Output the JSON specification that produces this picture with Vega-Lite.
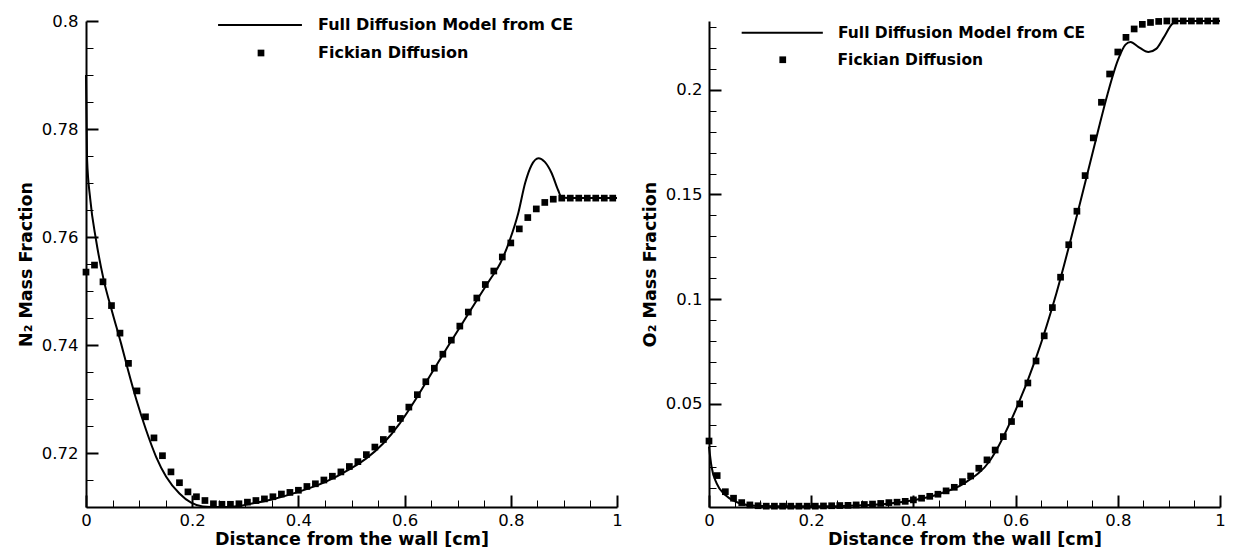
{
 "$schema": "https://vega.github.io/schema/vega-lite/v6.json",
 "padding": {"left": 17, "top": 13, "right": 5, "bottom": 0},
 "background": "white",
 "config": {
  "view": {"stroke": null},
  "font": "DejaVu Sans",
  "axis": {"domainColor": "black", "domainWidth": 2, "tickColor": "black", "labelColor": "black", "titleColor": "black", "labelFont": "DejaVu Sans", "labelFontSize": 16.5, "titleFont": "DejaVu Sans", "titleFontSize": 17.5, "titleFontWeight": "bold", "grid": false, "labelFlush": false}
 },
 "resolve": {"scale": {"shape": "independent", "color": "independent"}, "legend": {"shape": "independent", "color": "independent"}},
 "datasets": {
  "n2_ce": [
   {"x":0,"y":0.79},{"x":0.002,"y":0.7745},{"x":0.008,"y":0.767},{"x":0.019,"y":0.7594},{"x":0.033,"y":0.7522},{"x":0.05,"y":0.7459},{"x":0.066,"y":0.7403},{"x":0.079,"y":0.7354},{"x":0.095,"y":0.7298},{"x":0.113,"y":0.7243},{"x":0.132,"y":0.7193},{"x":0.151,"y":0.7156},{"x":0.176,"y":0.7125},{"x":0.198,"y":0.7108},{"x":0.22,"y":0.7101},{"x":0.25,"y":0.71},{"x":0.28,"y":0.7101},{"x":0.31,"y":0.7106},{"x":0.35,"y":0.7114},{"x":0.4,"y":0.7128},{"x":0.45,"y":0.7146},{"x":0.5,"y":0.7172},{"x":0.528,"y":0.719},{"x":0.56,"y":0.7218},{"x":0.591,"y":0.7255},{"x":0.62,"y":0.7298},{"x":0.641,"y":0.7332},{"x":0.68,"y":0.7395},{"x":0.72,"y":0.7458},{"x":0.76,"y":0.752},{"x":0.78,"y":0.7551},{"x":0.798,"y":0.7594},{"x":0.814,"y":0.7644},{"x":0.827,"y":0.77},{"x":0.839,"y":0.7733},{"x":0.852,"y":0.7746},{"x":0.864,"y":0.7739},{"x":0.877,"y":0.7718},{"x":0.889,"y":0.7687},{"x":0.896,"y":0.7673},{"x":0.92,"y":0.7672},{"x":1.0,"y":0.7672}
  ],
  "n2_fick": [
   {"x":0,"y":0.7535,"series":"Fickian Diffusion"},{"x":0.016,"y":0.7548,"series":"Fickian Diffusion"},{"x":0.032,"y":0.7517,"series":"Fickian Diffusion"},{"x":0.048,"y":0.7473,"series":"Fickian Diffusion"},{"x":0.064,"y":0.7422,"series":"Fickian Diffusion"},{"x":0.08,"y":0.7366,"series":"Fickian Diffusion"},{"x":0.096,"y":0.7315,"series":"Fickian Diffusion"},{"x":0.112,"y":0.7267,"series":"Fickian Diffusion"},{"x":0.128,"y":0.7228,"series":"Fickian Diffusion"},{"x":0.144,"y":0.7195,"series":"Fickian Diffusion"},{"x":0.16,"y":0.7165,"series":"Fickian Diffusion"},{"x":0.176,"y":0.7145,"series":"Fickian Diffusion"},{"x":0.192,"y":0.7128,"series":"Fickian Diffusion"},{"x":0.208,"y":0.7119,"series":"Fickian Diffusion"},{"x":0.224,"y":0.7112,"series":"Fickian Diffusion"},{"x":0.24,"y":0.7106,"series":"Fickian Diffusion"},{"x":0.256,"y":0.7105,"series":"Fickian Diffusion"},{"x":0.272,"y":0.7105,"series":"Fickian Diffusion"},{"x":0.288,"y":0.7106,"series":"Fickian Diffusion"},{"x":0.304,"y":0.7109,"series":"Fickian Diffusion"},{"x":0.32,"y":0.7112,"series":"Fickian Diffusion"},{"x":0.336,"y":0.7115,"series":"Fickian Diffusion"},{"x":0.352,"y":0.7119,"series":"Fickian Diffusion"},{"x":0.368,"y":0.7124,"series":"Fickian Diffusion"},{"x":0.384,"y":0.7127,"series":"Fickian Diffusion"},{"x":0.4,"y":0.7131,"series":"Fickian Diffusion"},{"x":0.416,"y":0.7138,"series":"Fickian Diffusion"},{"x":0.432,"y":0.7143,"series":"Fickian Diffusion"},{"x":0.448,"y":0.715,"series":"Fickian Diffusion"},{"x":0.464,"y":0.7157,"series":"Fickian Diffusion"},{"x":0.48,"y":0.7165,"series":"Fickian Diffusion"},{"x":0.496,"y":0.7175,"series":"Fickian Diffusion"},{"x":0.512,"y":0.7184,"series":"Fickian Diffusion"},{"x":0.528,"y":0.7197,"series":"Fickian Diffusion"},{"x":0.544,"y":0.7211,"series":"Fickian Diffusion"},{"x":0.56,"y":0.7225,"series":"Fickian Diffusion"},{"x":0.576,"y":0.7244,"series":"Fickian Diffusion"},{"x":0.592,"y":0.7264,"series":"Fickian Diffusion"},{"x":0.608,"y":0.7285,"series":"Fickian Diffusion"},{"x":0.624,"y":0.7308,"series":"Fickian Diffusion"},{"x":0.64,"y":0.7332,"series":"Fickian Diffusion"},{"x":0.656,"y":0.7357,"series":"Fickian Diffusion"},{"x":0.672,"y":0.7383,"series":"Fickian Diffusion"},{"x":0.688,"y":0.7409,"series":"Fickian Diffusion"},{"x":0.704,"y":0.7435,"series":"Fickian Diffusion"},{"x":0.72,"y":0.7461,"series":"Fickian Diffusion"},{"x":0.736,"y":0.7487,"series":"Fickian Diffusion"},{"x":0.752,"y":0.7512,"series":"Fickian Diffusion"},{"x":0.768,"y":0.7537,"series":"Fickian Diffusion"},{"x":0.784,"y":0.7563,"series":"Fickian Diffusion"},{"x":0.8,"y":0.7589,"series":"Fickian Diffusion"},{"x":0.816,"y":0.7615,"series":"Fickian Diffusion"},{"x":0.832,"y":0.7636,"series":"Fickian Diffusion"},{"x":0.848,"y":0.7652,"series":"Fickian Diffusion"},{"x":0.864,"y":0.7664,"series":"Fickian Diffusion"},{"x":0.88,"y":0.767,"series":"Fickian Diffusion"},{"x":0.896,"y":0.7672,"series":"Fickian Diffusion"},{"x":0.912,"y":0.7672,"series":"Fickian Diffusion"},{"x":0.928,"y":0.7672,"series":"Fickian Diffusion"},{"x":0.944,"y":0.7672,"series":"Fickian Diffusion"},{"x":0.96,"y":0.7672,"series":"Fickian Diffusion"},{"x":0.976,"y":0.7672,"series":"Fickian Diffusion"},{"x":0.992,"y":0.7672,"series":"Fickian Diffusion"}
  ],
  "o2_ce": [
   {"x":0,"y":0.0296},{"x":0.005,"y":0.02},{"x":0.015,"y":0.0121},{"x":0.032,"y":0.0065},{"x":0.048,"y":0.0038},{"x":0.065,"y":0.0022},{"x":0.09,"y":0.0014},{"x":0.15,"y":0.0011},{"x":0.25,"y":0.0012},{"x":0.3,"y":0.0016},{"x":0.35,"y":0.0024},{"x":0.4,"y":0.004},{"x":0.45,"y":0.007},{"x":0.5,"y":0.0122},{"x":0.55,"y":0.023},{"x":0.6,"y":0.047},{"x":0.64,"y":0.072},{"x":0.68,"y":0.103},{"x":0.72,"y":0.14},{"x":0.76,"y":0.179},{"x":0.78,"y":0.198},{"x":0.8,"y":0.214},{"x":0.815,"y":0.2215},{"x":0.825,"y":0.2228},{"x":0.84,"y":0.2205},{"x":0.86,"y":0.218},{"x":0.875,"y":0.2195},{"x":0.89,"y":0.225},{"x":0.905,"y":0.231},{"x":0.915,"y":0.2328},{"x":1.0,"y":0.2328}
  ],
  "o2_fick": [
   {"x":0,"y":0.0323,"series":"Fickian Diffusion"},{"x":0.016,"y":0.0158,"series":"Fickian Diffusion"},{"x":0.032,"y":0.0081,"series":"Fickian Diffusion"},{"x":0.048,"y":0.005,"series":"Fickian Diffusion"},{"x":0.064,"y":0.0029,"series":"Fickian Diffusion"},{"x":0.08,"y":0.0018,"series":"Fickian Diffusion"},{"x":0.096,"y":0.0014,"series":"Fickian Diffusion"},{"x":0.112,"y":0.0012,"series":"Fickian Diffusion"},{"x":0.128,"y":0.0012,"series":"Fickian Diffusion"},{"x":0.144,"y":0.0012,"series":"Fickian Diffusion"},{"x":0.16,"y":0.0012,"series":"Fickian Diffusion"},{"x":0.176,"y":0.0012,"series":"Fickian Diffusion"},{"x":0.192,"y":0.0012,"series":"Fickian Diffusion"},{"x":0.208,"y":0.0012,"series":"Fickian Diffusion"},{"x":0.224,"y":0.0013,"series":"Fickian Diffusion"},{"x":0.24,"y":0.0014,"series":"Fickian Diffusion"},{"x":0.256,"y":0.0015,"series":"Fickian Diffusion"},{"x":0.272,"y":0.0016,"series":"Fickian Diffusion"},{"x":0.288,"y":0.0018,"series":"Fickian Diffusion"},{"x":0.304,"y":0.002,"series":"Fickian Diffusion"},{"x":0.32,"y":0.0022,"series":"Fickian Diffusion"},{"x":0.336,"y":0.0025,"series":"Fickian Diffusion"},{"x":0.352,"y":0.0029,"series":"Fickian Diffusion"},{"x":0.368,"y":0.0031,"series":"Fickian Diffusion"},{"x":0.384,"y":0.0035,"series":"Fickian Diffusion"},{"x":0.4,"y":0.0042,"series":"Fickian Diffusion"},{"x":0.416,"y":0.005,"series":"Fickian Diffusion"},{"x":0.432,"y":0.0059,"series":"Fickian Diffusion"},{"x":0.448,"y":0.0069,"series":"Fickian Diffusion"},{"x":0.464,"y":0.0085,"series":"Fickian Diffusion"},{"x":0.48,"y":0.0102,"series":"Fickian Diffusion"},{"x":0.496,"y":0.0129,"series":"Fickian Diffusion"},{"x":0.512,"y":0.0156,"series":"Fickian Diffusion"},{"x":0.528,"y":0.0193,"series":"Fickian Diffusion"},{"x":0.544,"y":0.0233,"series":"Fickian Diffusion"},{"x":0.56,"y":0.028,"series":"Fickian Diffusion"},{"x":0.576,"y":0.0344,"series":"Fickian Diffusion"},{"x":0.592,"y":0.0416,"series":"Fickian Diffusion"},{"x":0.608,"y":0.05,"series":"Fickian Diffusion"},{"x":0.624,"y":0.06,"series":"Fickian Diffusion"},{"x":0.64,"y":0.0705,"series":"Fickian Diffusion"},{"x":0.656,"y":0.0825,"series":"Fickian Diffusion"},{"x":0.672,"y":0.096,"series":"Fickian Diffusion"},{"x":0.688,"y":0.1105,"series":"Fickian Diffusion"},{"x":0.704,"y":0.126,"series":"Fickian Diffusion"},{"x":0.72,"y":0.142,"series":"Fickian Diffusion"},{"x":0.736,"y":0.159,"series":"Fickian Diffusion"},{"x":0.752,"y":0.177,"series":"Fickian Diffusion"},{"x":0.768,"y":0.194,"series":"Fickian Diffusion"},{"x":0.784,"y":0.2075,"series":"Fickian Diffusion"},{"x":0.8,"y":0.218,"series":"Fickian Diffusion"},{"x":0.816,"y":0.225,"series":"Fickian Diffusion"},{"x":0.832,"y":0.229,"series":"Fickian Diffusion"},{"x":0.848,"y":0.2312,"series":"Fickian Diffusion"},{"x":0.864,"y":0.2321,"series":"Fickian Diffusion"},{"x":0.88,"y":0.2326,"series":"Fickian Diffusion"},{"x":0.896,"y":0.2328,"series":"Fickian Diffusion"},{"x":0.912,"y":0.2328,"series":"Fickian Diffusion"},{"x":0.928,"y":0.2328,"series":"Fickian Diffusion"},{"x":0.944,"y":0.2328,"series":"Fickian Diffusion"},{"x":0.96,"y":0.2328,"series":"Fickian Diffusion"},{"x":0.976,"y":0.2328,"series":"Fickian Diffusion"},{"x":0.992,"y":0.2328,"series":"Fickian Diffusion"}
  ]
 },
 "spacing": 92,
 "bounds": "flush",
 "hconcat": [
  {
   "width": 531,
   "height": 486,
   "resolve": {"axis": {"x": "independent", "y": "independent"}},
   "layer": [
    {
     "data": {"name": "n2_ce"},
     "mark": {"type": "line", "strokeWidth": 2, "interpolate": "monotone"},
     "encoding": {
      "x": {"field": "x", "type": "quantitative", "scale": {"domain": [0, 1], "nice": false, "zero": false},
            "axis": {"orient": "bottom", "values": [0, 0.2, 0.4, 0.6, 0.8, 1], "format": "~g", "tickSize": -12, "tickWidth": 2, "labelPadding": 17, "title": "Distance from the wall [cm]", "titlePadding": 2}},
      "y": {"field": "y", "type": "quantitative", "scale": {"domain": [0.71, 0.8], "nice": false, "zero": false},
            "axis": {"orient": "left", "values": [0.72, 0.74, 0.76, 0.78, 0.8], "format": "~g", "tickSize": -12, "tickWidth": 2, "labelPadding": 20, "title": "N₂ Mass Fraction", "titlePadding": 6}},
      "color": {"datum": "Full Diffusion Model from CE", "type": "nominal", "scale": {"range": ["black"]},
                "legend": {"orient": "none", "legendX": 166, "legendY": -4, "title": null, "padding": 0, "labelFont": "DejaVu Sans", "labelFontSize": 16, "labelFontWeight": "bold", "labelColor": "black", "labelOffset": 50, "labelLimit": 500, "symbolType": "M-12.5,0H12.5", "symbolSize": 45, "symbolStrokeWidth": 2, "symbolStrokeColor": "black"}}
     }
    },
    {
     "data": {"name": "n2_fick"},
     "mark": {"type": "point", "filled": true, "opacity": 1, "color": "black", "size": 45},
     "encoding": {
      "x": {"field": "x", "type": "quantitative",
            "axis": {"orient": "bottom", "values": [0.05, 0.1, 0.15, 0.25, 0.3, 0.35, 0.45, 0.5, 0.55, 0.65, 0.7, 0.75, 0.85, 0.9, 0.95], "labels": false, "domain": false, "tickSize": -7, "tickWidth": 1, "title": null}},
      "y": {"field": "y", "type": "quantitative",
            "axis": {"orient": "left", "values": [0.715, 0.725, 0.73, 0.735, 0.745, 0.75, 0.755, 0.765, 0.77, 0.775, 0.785, 0.79, 0.795], "labels": false, "domain": false, "tickSize": -7, "tickWidth": 1, "title": null}},
      "shape": {"field": "series", "type": "nominal",
                "scale": {"domain": ["Fickian Diffusion"], "range": ["square"]},
                "legend": {"orient": "none", "legendX": 167, "legendY": 24, "title": null, "padding": 0, "labelFont": "DejaVu Sans", "labelFontSize": 16, "labelFontWeight": "bold", "labelColor": "black", "labelOffset": 49, "labelLimit": 500, "symbolSize": 45, "symbolOpacity": 1, "symbolFillColor": "black", "symbolStrokeWidth": 0}}
     }
    }
   ]
  },
  {
   "width": 511,
   "height": 486,
   "resolve": {"axis": {"x": "independent", "y": "independent"}},
   "layer": [
    {
     "data": {"name": "o2_ce"},
     "mark": {"type": "line", "strokeWidth": 2, "interpolate": "monotone"},
     "encoding": {
      "x": {"field": "x", "type": "quantitative", "scale": {"domain": [0, 1], "nice": false, "zero": false},
            "axis": {"orient": "bottom", "values": [0, 0.2, 0.4, 0.6, 0.8, 1], "format": "~g", "tickSize": -12, "tickWidth": 2, "labelPadding": 17, "title": "Distance from the wall [cm]", "titlePadding": 2}},
      "y": {"field": "y", "type": "quantitative", "scale": {"domain": [0.0008, 0.2328], "nice": false, "zero": false},
            "axis": {"orient": "left", "values": [0.05, 0.1, 0.15, 0.2], "format": "~g", "tickSize": -12, "tickWidth": 2, "labelPadding": 19, "title": "O₂ Mass Fraction", "titlePadding": 6}},
      "color": {"datum": "Full Diffusion Model from CE", "type": "nominal", "scale": {"range": ["black"]},
                "legend": {"orient": "none", "legendX": 65.5, "legendY": 4, "title": null, "padding": 0, "labelFont": "DejaVu Sans", "labelFontSize": 15.5, "labelFontWeight": "bold", "labelColor": "black", "labelOffset": 48, "labelLimit": 500, "symbolType": "M-12.1,0H12.1", "symbolSize": 45, "symbolStrokeWidth": 2, "symbolStrokeColor": "black"}}
     }
    },
    {
     "data": {"name": "o2_fick"},
     "mark": {"type": "point", "filled": true, "opacity": 1, "color": "black", "size": 45},
     "encoding": {
      "x": {"field": "x", "type": "quantitative",
            "axis": {"orient": "bottom", "values": [0.05, 0.1, 0.15, 0.25, 0.3, 0.35, 0.45, 0.5, 0.55, 0.65, 0.7, 0.75, 0.85, 0.9, 0.95], "labels": false, "domain": false, "tickSize": -7, "tickWidth": 1, "title": null}},
      "y": {"field": "y", "type": "quantitative",
            "axis": {"orient": "left", "values": [0.01, 0.02, 0.03, 0.04, 0.06, 0.07, 0.08, 0.09, 0.11, 0.12, 0.13, 0.14, 0.16, 0.17, 0.18, 0.19, 0.21, 0.22, 0.23], "labels": false, "domain": false, "tickSize": -7, "tickWidth": 1, "title": null}},
      "shape": {"field": "series", "type": "nominal",
                "scale": {"domain": ["Fickian Diffusion"], "range": ["square"]},
                "legend": {"orient": "none", "legendX": 66, "legendY": 31, "title": null, "padding": 0, "labelFont": "DejaVu Sans", "labelFontSize": 15.5, "labelFontWeight": "bold", "labelColor": "black", "labelOffset": 47, "labelLimit": 500, "symbolSize": 45, "symbolOpacity": 1, "symbolFillColor": "black", "symbolStrokeWidth": 0}}
     }
    }
   ]
  }
 ]
}
